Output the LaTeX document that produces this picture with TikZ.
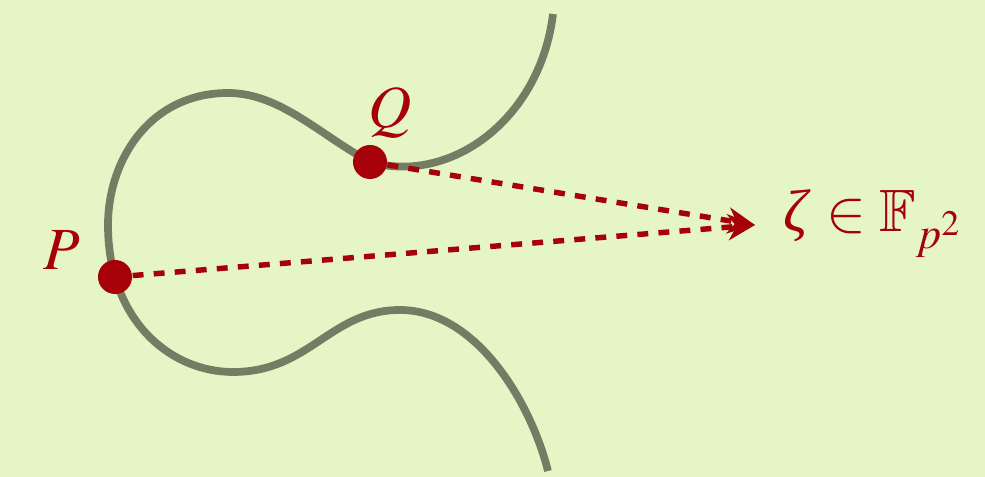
\documentclass[tikz,border=0pt]{standalone}
\usepackage{mathptmx}
\usepackage{amssymb}
\usepackage[no-math]{fontspec}
\setmainfont{Liberation Serif}
\usetikzlibrary{arrows.meta}
\definecolor{bggreen}{RGB}{230,245,198}
\definecolor{curvegray}{RGB}{116,125,99}
\definecolor{ptred}{RGB}{166,0,8}

\begin{document}
\begin{tikzpicture}[
    x=0.01cm, y=-0.01cm,
    >={Stealth[length=7.7pt, width=7.4pt, inset=2.4pt]},
    curve/.style={draw=curvegray, line width=2.2pt},
    pt/.style={circle, fill=ptred, minimum size=0.34cm, inner sep=0pt},
    pairing/.style={->, draw=ptred, line width=1.55pt, dash pattern=on 3.1pt off 2.9pt},
    lbl/.style={text=ptred, font=\fontsize{17}{20}\selectfont, inner sep=0pt},
]

% ── Background ──
\fill[bggreen] (0,0) rectangle (985,477);
\useasboundingbox (0,0) rectangle (985,477);

% ── Curve ──
\draw[curve] (553,14) .. controls (540,120) and (450,185) .. (370,162)
    .. controls (320,135) and (280,93) .. (228,93)
    .. controls (150,93) and (108,160) .. (108,225)
    .. controls (108,320) and (170,372) .. (233,372)
    .. controls (310,372) and (330,310) .. (400,310)
    .. controls (475,310) and (530,400) .. (548,471);

% ── Points ──
\node[pt] (P) at (115,277) {};
\node[pt] (Q) at (370,162) {};
\coordinate (zeta) at (755,225);

% ── Pairing arrows ──
\draw[pairing] (Q) -- (zeta);
\draw[pairing] (P) -- (zeta);

% ── Labels ──
\node[lbl] (plbl) at (62,250) {$P$};
\node[lbl] (qlbl) at (390,113) {$Q$};
\node[lbl, anchor=base west] (zetalbl) at (783,232) {\textit{ζ} $\in\mathbb{F}_{p^2}$};

\end{tikzpicture}
\end{document}
